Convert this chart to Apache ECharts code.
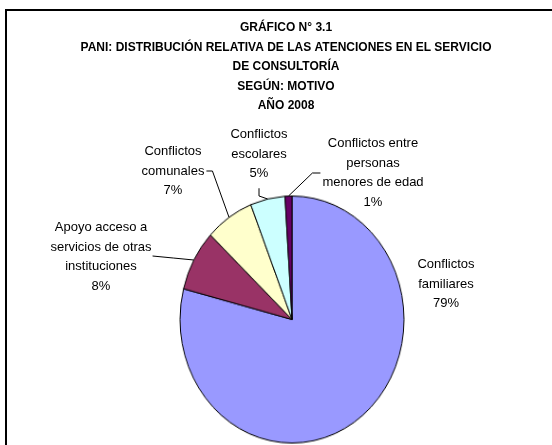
<!DOCTYPE html>
<html>
<head>
<meta charset="utf-8">
<script src="https://cdn.jsdelivr.net/npm/echarts@6/dist/echarts.min.js"></script>
<style>
html,body{margin:0;padding:0;background:#fff;}
#wrap{position:relative;width:552px;height:445px;overflow:hidden;}
#pie,#c{position:absolute;left:0;top:0;width:552px;height:445px;}
#pie{transform-origin:292px 319.5px;}
</style>
</head>
<body>
<div id="wrap"><div id="pie"></div><div id="c"></div></div>
<script>
const titleLines = [
  'GRÁFICO N° 3.1',
  'PANI: DISTRIBUCIÓN RELATIVA DE LAS ATENCIONES EN EL SERVICIO',
  'DE CONSULTORÍA',
  'SEGÚN: MOTIVO',
  'AÑO 2008'
];
const categories = [
  'Conflictos\nfamiliares',
  'Apoyo acceso a\nservicios de otras\ninstituciones',
  'Conflictos\ncomunales',
  'Conflictos\nescolares',
  'Conflictos entre\npersonas\nmenores de edad'
];
const values = [79, 8, 7, 5, 1];
const colors = ['#9999FF', '#993366', '#FFFFCC', '#CCFFFF', '#660066'];

// layout constants (not data)
const CX = 292, CY = 319.5, R = 118;
const SX = 112 / R, SY = 123.5 / R;           // the reference pie is a slightly tall ellipse
const labelPos = [[446, 284], [101, 257], [173, 171], [259, 154], [373, 173]];
const font = "'Liberation Sans', Arial, sans-serif";

document.getElementById('pie').style.transform = 'scale(' + SX + ',' + SY + ')';

// 1) the slices
const pie = echarts.init(document.getElementById('pie'), null, {renderer: 'canvas'});
pie.setOption({
  animation: false,
  series: [{
    type: 'pie',
    center: [CX, CY],
    radius: R,
    startAngle: 90,
    clockwise: true,
    silent: true,
    itemStyle: {borderColor: '#000', borderWidth: 1},
    label: {show: false},
    labelLine: {show: false},
    data: categories.map((c, i) => ({name: c, value: values[i], itemStyle: {color: colors[i]}}))
  }]
});

// 2) title, frame, labels and leader lines
const toEllipse = p => [CX + (p[0] - CX) * SX, CY + (p[1] - CY) * SY];
const chart = echarts.init(document.getElementById('c'), null, {renderer: 'canvas'});
chart.setOption({
  animation: false,
  title: {
    text: titleLines.join('\n'),
    left: 281,
    textAlign: 'center',
    top: 13,
    textStyle: {fontFamily: font, fontSize: 12, fontWeight: 'bold', color: '#000', lineHeight: 19.5}
  },
  graphic: [{
    type: 'rect',
    shape: {x: 6, y: 10, width: 600, height: 500},
    style: {fill: 'none', stroke: '#000', lineWidth: 2},
    silent: true
  }],
  series: [{
    type: 'pie',
    center: [CX, CY],
    radius: R,
    startAngle: 90,
    clockwise: true,
    silent: true,
    avoidLabelOverlap: false,
    itemStyle: {color: 'rgba(0,0,0,0)', borderWidth: 0},
    label: {
      show: true,
      position: 'outside',
      fontFamily: font,
      fontSize: 13,
      lineHeight: 19.5,
      color: '#000',
      align: 'center',
      formatter: p => p.name + '\n' + p.value + '%'
    },
    labelLine: {show: true, length: 8, length2: 8, smooth: false, lineStyle: {color: '#000', width: 1}},
    labelLayout: function (params) {
      const i = params.dataIndex;
      const pos = labelPos[i];
      const w = params.labelRect.width, h = params.labelRect.height;
      const out = {x: pos[0], y: pos[1], align: 'center', verticalAlign: 'middle'};
      if (params.labelLinePoints && i > 0) {
        const a = toEllipse(params.labelLinePoints[0]);
        let pts;
        if (i === 1) {          // to right side of the label
          const e = [pos[0] + w / 2 + 1, pos[1] - 1];
          pts = [a, [(a[0] + e[0]) / 2, (a[1] + e[1]) / 2], e];
        } else if (i === 2) {   // up to right of "comunales", short stub
          const e = [pos[0] + w / 2 + 2, pos[1]];
          pts = [a, [e[0] + 6, e[1]], e];
        } else if (i === 3) {   // short hook below "5%"
          const e = [pos[0], pos[1] + h / 2 + 5];
          pts = [a, [e[0], a[1] - 3], e];
        } else {                // to left of "menores de edad"
          const e = [pos[0] - w / 2 - 2, pos[1]];
          pts = [a, [e[0] - 8, e[1]], e];
        }
        out.labelLinePoints = pts;
      }
      return out;
    },
    data: categories.map((c, i) => ({
      name: c,
      value: values[i],
      labelLine: {show: i !== 0}
    }))
  }]
});
</script>
</body>
</html>
